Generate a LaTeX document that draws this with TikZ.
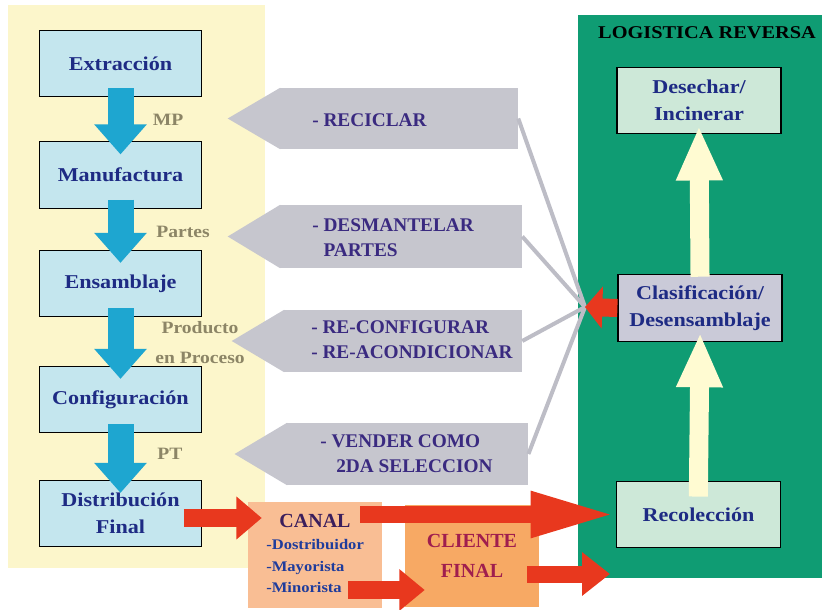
\documentclass[tikz,border=0pt]{standalone}
\usepackage{fontspec}
\setmainfont{Liberation Serif}
\newfontfamily\widefont{Liberation Serif}[FakeStretch=1.13]
\usetikzlibrary{arrows.meta,calc}

\definecolor{amarillo}{HTML}{FCF6CB}
\definecolor{verde}{HTML}{0F9C73}
\definecolor{cajaazul}{HTML}{C4E6EE}
\definecolor{cajaverde}{HTML}{CDE8D8}
\definecolor{cajagris}{HTML}{CACAD8}
\definecolor{tinta}{HTML}{1E2B84}
\definecolor{flecha}{HTML}{1EA6D0}
\definecolor{etiq}{HTML}{8C8566}
\definecolor{gris}{HTML}{C6C6CE}
\definecolor{grislinea}{HTML}{BDBDC6}
\definecolor{morado}{HTML}{3A2A80}
\definecolor{crema}{HTML}{FFFBD2}
\definecolor{rojo}{HTML}{E8381E}
\definecolor{naranjaclaro}{HTML}{F9BE94}
\definecolor{naranja}{HTML}{F7A964}
\definecolor{canaltxt}{HTML}{3B1E5C}
\definecolor{listatxt}{HTML}{1F3C9C}
\definecolor{clientetxt}{HTML}{A01E4E}

\begin{document}
\begin{tikzpicture}[x=0.75pt,y=0.75pt,yscale=-1,
  procbox/.style={draw=black, line width=0.9pt, fill=cajaazul, minimum width=121pt, minimum height=50pt,
    inner sep=0pt, align=center, text=tinta, font=\widefont\bfseries\fontsize{14.7}{20}\selectfont},
  revbox/.style={procbox, fill=cajaverde, minimum width=123pt},
  flowlabel/.style={text=etiq, inner sep=0pt, font=\widefont\bfseries\fontsize{13}{22.5}\selectfont},
  greybody/.style={fill=gris, inner sep=0pt},
  greytext/.style={text=morado, inner sep=0pt, anchor=west, align=left, font=\bfseries\fontsize{14.5}{19}\selectfont},
  greyline/.style={draw=grislinea, line width=3pt},
  bluearr/.style={draw=flecha, line width=19.5pt, -{Triangle[width=38pt,length=22.5pt]},
    shorten <=-7pt, shorten >=-10pt},
  creamarr/.style={draw=crema, line width=14.25pt, -{Triangle[width=32pt,length=41pt]}},
  redarr/.style={draw=rojo, line width=13pt}]
\useasboundingbox (0,0) rectangle (822,610);

%Panels
\node[fill=amarillo, minimum width=192.75pt, minimum height=422.25pt, inner sep=0pt, anchor=north west] (prod) at (8,5) {};
\node[fill=verde, minimum width=183pt, minimum height=422.25pt, inner sep=0pt, anchor=north west] (logrev) at (578,15) {};
\node[font=\widefont\bfseries\fontsize{13.5}{16}\selectfont, inner sep=0pt] (titulo) at (707,33) {LOGISTICA REVERSA};

%Forward chain
\node[procbox] (extr) at (120.5,63.5) {Extracción};
\node[procbox] (manu) at (120.5,175) {Manufactura};
\node[procbox] (ensa) at (120.5,283.5) {Ensamblaje};
\node[procbox] (conf) at (120.5,399.5) {Configuración};
\node[procbox] (dist) at (120.5,513.5) {Distribución\\Final};
\foreach \a/\b in {extr/manu, manu/ensa, ensa/conf, conf/dist}
  \draw[bluearr] (\a.south) -- (\b.north);

\node[flowlabel] (mp) at (168,120) {MP};
\node[flowlabel] (partes) at (183,232) {Partes};
\node[flowlabel, align=center] (prodproc) at (200,343) {Producto\\en Proceso};
\node[flowlabel] (pt) at (170,454) {PT};

%Grey arrows
\node[greybody, minimum width=178.5pt, minimum height=45.75pt] (recic) at (399,118.5) {};
\node[greybody, minimum width=181.5pt, minimum height=47.25pt] (desm) at (401,236.5) {};
\node[greybody, minimum width=178.5pt, minimum height=46.5pt] (reconf) at (403,341) {};
\node[greybody, minimum width=181pt, minimum height=46.5pt] (vend) at (407.5,454) {};
\foreach \g in {recic, desm, reconf, vend}
  \fill[gris] ($(\g.north west)+(0.5,0)$) -- ($(\g.west)+(-52,0)$) -- ($(\g.south west)+(0.5,0)$) -- cycle;
\node[greytext] (recic-t) at (312,120) {- RECICLAR};
\node[greytext] (desm-t) at (312,237.5) {- DESMANTELAR\\\phantom{- }PARTES};
\node[greytext] (reconf-t) at (311,340) {- RE-CONFIGURAR\\- RE-ACONDICIONAR};
\node[greytext] (vend-t) at (320,454) {- VENDER COMO\\\hspace*{12pt}2DA SELECCION};

%Reverse side
\node[revbox] (desec) at (699,100.5) {Desechar/\\Incinerar};
\node[revbox, fill=cajagris] (clas) at (700,308) {Clasificación/\\Desensamblaje};
\node[revbox] (recol) at (698.5,514.5) {Recolección};
\draw[creamarr, shorten <=-12pt, shorten >=-7pt] (recol.north) -- (clas.south);
\draw[creamarr, shorten <=-2pt, shorten >=-6.5pt] (clas.north) -- (desec.south);

\coordinate (hub) at (585,307);
\foreach \g in {recic, desm, reconf, vend}
  \draw[greyline] (\g.east) -- (hub);
\draw[redarr, line width=13.5pt, -{Triangle[width=31pt,length=13pt]}] (clas.west) -- (hub);

%Channel
\node[fill=naranjaclaro, minimum width=100.5pt, minimum height=79.5pt, inner sep=0pt] (canal) at (315,555) {};
\node[text=canaltxt, inner sep=0pt, font=\bfseries\fontsize{15}{18}\selectfont] (canal-t) at (315,521) {CANAL};
\node[text=listatxt, inner sep=0pt, anchor=west, align=left, font=\widefont\bfseries\fontsize{11}{16}\selectfont] (lista) at (266,566) {-Dostribuidor\\-Mayorista\\-Minorista};
\node[fill=naranja, minimum width=100.5pt, minimum height=76.5pt, inner sep=0pt, align=center, text=clientetxt,
  font=\bfseries\fontsize{15}{23}\selectfont] (clie) at (472,556) {CLIENTE\\FINAL};

%Red arrows
\draw[redarr, line width=13.5pt, -{Triangle[width=31pt,length=19pt]}]
  ($(dist.east)+(-18,4.5)$) -- ($(canal.west |- dist.east)+(14,4.5)$);
\draw[redarr, line width=12.75pt, -{Triangle[width=31.5pt,length=64pt]}]
  ($(canal.east |- recol.west)+(-22,0)$) -- (recol.west);
\draw[redarr, line width=13.5pt, -{Triangle[width=30pt,length=19pt]}]
  ($(canal.east)+(-34,35)$) -- ($(clie.west)+(20,34)$);
\draw[redarr, line width=12.75pt, -{Triangle[width=31.5pt,length=21pt]}]
  ($(clie.east)+(-12,18)$) -- ($(clie.east -| logrev.west)+(32,18)$);

\end{tikzpicture}
\end{document}
